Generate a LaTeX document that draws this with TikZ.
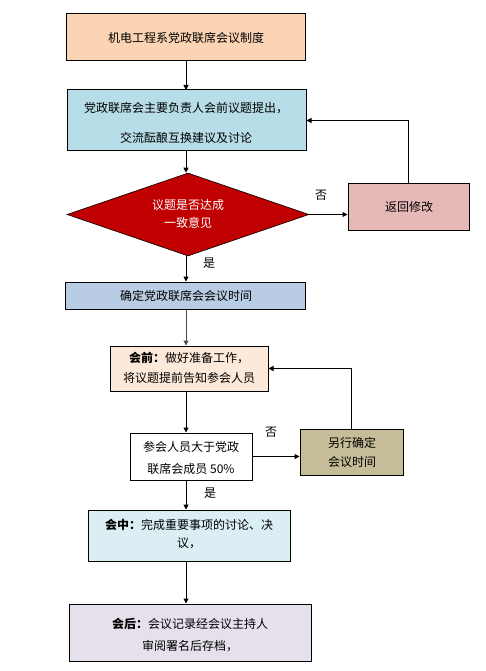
\documentclass[tikz,border=0pt]{standalone}
\usepackage{fontspec}
\setmainfont{Noto Sans CJK SC}
\usetikzlibrary{shapes.geometric,arrows.meta}
\definecolor{cA}{HTML}{FBD4B4}
\definecolor{cB}{HTML}{B7DDE8}
\definecolor{cD}{HTML}{C00000}
\definecolor{cR}{HTML}{E6B8B7}
\definecolor{cC}{HTML}{B8CCE4}
\definecolor{cE}{HTML}{FDE9D9}
\definecolor{cF}{HTML}{C4BD97}
\definecolor{cG}{HTML}{DAEEF3}
\definecolor{cH}{HTML}{E5E0EC}
\begin{document}
\begin{tikzpicture}[x=1pt,y=-1pt,
  box/.style={draw=black, line width=1pt, inner sep=0pt},
  txt/.style={inner sep=0pt, font=\fontsize{12}{14}\selectfont},
  lab/.style={inner sep=0pt, font=\fontsize{12}{14}\selectfont},
  arr/.style={draw=black, line width=1pt, -{Triangle[length=5pt,width=5pt]}}]
\useasboundingbox (0,0) rectangle (486,671);
% boxes
\node[box, fill=cA, minimum width=239pt, minimum height=47pt] (b1) at (185.5,37.5) {};
\node[txt] (t1) at (186,38) {机电工程系党政联席会议制度};
\node[box, fill=cB, minimum width=239pt, minimum height=61pt] (b2) at (186.5,120.5) {};
\node[txt] (t2a) at (186,108) {党政联席会主要负责人会前议题提出，};
\node[txt] (t2b) at (186,138) {交流酝酿互换建议及讨论};
\node[diamond, draw=black, line width=0.6pt, fill=cD, inner sep=0pt, minimum width=242pt, minimum height=83pt] (d) at (188,214.5) {};
\node[txt, text=white] (td1) at (188,205) {议题是否达成};
\node[txt, text=white] (td2) at (188,223) {一致意见};
\node[box, fill=cR, minimum width=121pt, minimum height=47pt] (back) at (408.5,206.5) {};
\node[txt] (tback) at (409,207) {返回修改};
\node[box, fill=cC, minimum width=240pt, minimum height=27pt] (b3) at (185,295.5) {};
\node[txt] (t3) at (186,296) {确定党政联席会会议时间};
\node[box, fill=cE, minimum width=158pt, minimum height=45pt] (b4) at (189,368.5) {};
\node[txt] (t4a) at (189,358) {\textbf{会前：}做好准备工作，};
\node[txt] (t4b) at (189,378) {将议题提前告知参会人员};
\node[box, fill=white, minimum width=122pt, minimum height=47pt] (b5) at (191,456.5) {};
\node[txt] (t5a) at (191,447) {参会人员大于党政};
\node[txt] (t5b) at (191,469) {联席会成员 50\%};
\node[box, fill=cF, minimum width=103pt, minimum height=46pt] (b6) at (351.5,452) {};
\node[txt] (t6a) at (352,443) {另行确定};
\node[txt] (t6b) at (352,462) {会议时间};
\node[box, fill=cG, minimum width=202pt, minimum height=51pt] (b7) at (189,535.5) {};
\node[txt] (t7a) at (189,525) {\textbf{会中：}完成重要事项的讨论、决};
\node[txt] (t7b) at (189,543) {议，};
\node[box, fill=cH, minimum width=242pt, minimum height=57pt] (b8) at (190,632.5) {};
\node[txt] (t8a) at (190,624) {\textbf{会后：}会议记录经会议主持人};
\node[txt] (t8b) at (190,646) {审阅署名后存档，};
% labels
\node[lab] (n1) at (321,195) {否};
\node[lab] (y1) at (209,263) {是};
\node[lab] (n2) at (271,432) {否};
\node[lab] (y2) at (210,493) {是};
% connectors
\draw[arr] (b1.south -| 186,0) -- (186,90);
\draw[arr] (b2.south -| 186,0) -- (d.north -| 186,0);
\draw[arr] (d.east) -- (back.west |- d.east);
\draw[arr] (back.north) |- (b2.east);
\draw[arr] (d.south -| 186,0) -- (b3.north -| 186,0);
\draw[arr, draw=black!70] (b3.south -| 186,0) -- (b4.north -| 186,0);
\draw[arr] (b4.south -| 186,0) -- (b5.north -| 186,0);
\draw[arr] (b5.east) -- (b6.west |- b5.east);
\draw[arr] (b6.north) |- (b4.east);
\draw[arr] (b5.south -| 186,0) -- (b7.north -| 186,0);
\draw[arr] (b7.south -| 186,0) -- (b8.north -| 186,0);
\end{tikzpicture}
\end{document}
